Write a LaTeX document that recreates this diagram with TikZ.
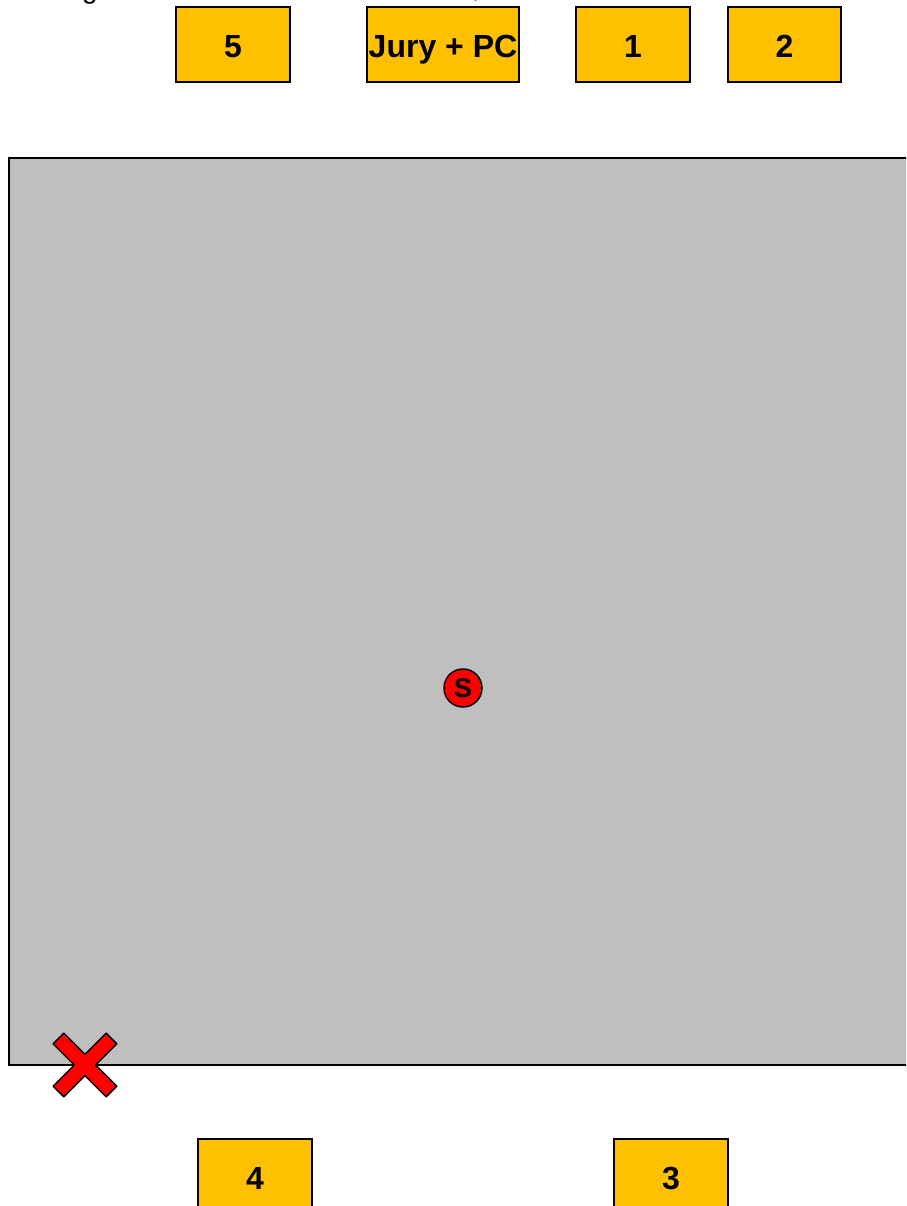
\documentclass[tikz,border=0pt]{standalone}
\usepackage{fontspec}
\setmainfont{Liberation Sans}
\definecolor{boxyellow}{RGB}{255,192,0}
\definecolor{floorgray}{RGB}{191,191,191}
\definecolor{markred}{RGB}{255,0,0}
\tikzset{
  table/.style={draw=black, line width=1.5pt, fill=boxyellow, inner sep=0pt,
    text height=23pt, text depth=0pt,
    font=\fontsize{32}{36}\selectfont\bfseries},
  floor/.style={draw=black, line width=1.5pt, fill=floorgray},
  startmark/.style={circle, draw=black, line width=1.5pt, fill=markred, minimum size=38pt, inner sep=0pt,
    font=\fontsize{27}{28}\selectfont\bfseries},
  crossmark/.style={draw=black, line width=1.5pt, fill=markred, line join=round},
  cuttext/.style={inner sep=0pt, font=\fontsize{28}{30}\selectfont}
}
\begin{document}
\begin{tikzpicture}[x=1pt, y=-1pt]
\useasboundingbox (0,0) rectangle (906,1206);
\clip (0,0) rectangle (906,1206);
% clipped line of text above the picture
\node[cuttext, anchor=base west] (topg) at (82,-1) {g};
\node[cuttext, anchor=base west] (topcomma) at (472,-2) {,};
% floor
\draw[floor] (9,158) rectangle (920,1065);
\coordinate (floorsw) at (9,1065);
% tables at the top
\node[table, minimum width=114pt, minimum height=75pt] (t5) at (233,44.5) {\raisebox{-2pt}{5}};
\node[table, minimum width=152pt, minimum height=75pt] (jury) at (443,44.5) {\raisebox{-2pt}{Jury + PC}};
\node[table, minimum width=114pt, minimum height=75pt] (t1) at (633,44.5) {\raisebox{-2pt}{1}};
\node[table, minimum width=113pt, minimum height=75pt] (t2) at (784.5,44.5) {\raisebox{-2pt}{2}};
% tables at the bottom
\node[table, minimum width=114pt, minimum height=90pt] (t4) at (255,1184) {\raisebox{6pt}{4}};
\node[table, minimum width=114pt, minimum height=90pt] (t3) at (671,1184) {\raisebox{6pt}{3}};
% start point
\node[startmark] (start) at (463,688) {\raisebox{-3pt}{S}};
% cross mark at the corner
\begin{scope}[shift={(85,1065)}, rotate=45]
\draw[crossmark] (7.5,7.5) -- (7.5,37.5) -- (-7.5,37.5) -- (-7.5,7.5) -- (-37.5,7.5) -- (-37.5,-7.5)
  -- (-7.5,-7.5) -- (-7.5,-37.5) -- (7.5,-37.5) -- (7.5,-7.5) -- (37.5,-7.5) -- (37.5,7.5) -- cycle;
\end{scope}
\end{tikzpicture}
\end{document}
